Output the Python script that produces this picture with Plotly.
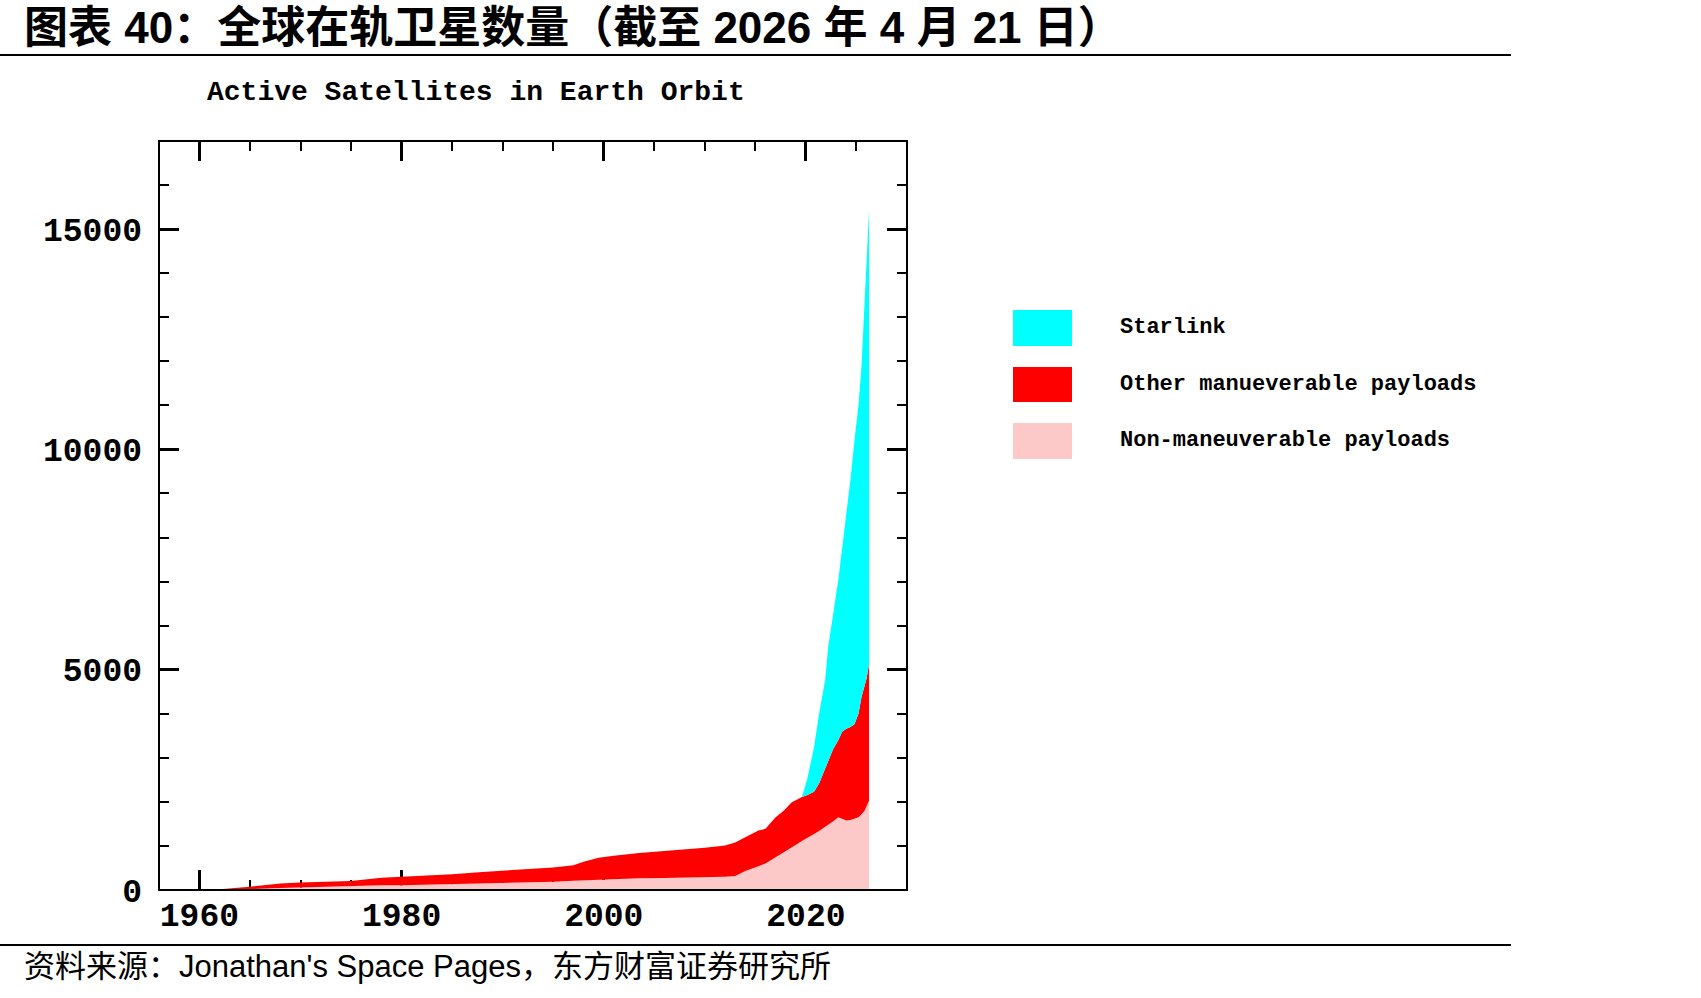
import plotly.graph_objects as go

# ---- data (stack boundaries: cumulative satellite counts) ----
years = [1957.8, 1960, 1962, 1965, 1968, 1970, 1972, 1975, 1978, 1980, 1982, 1985, 1988,
         1990, 1993, 1995, 1997, 1998, 1999.5, 2001, 2003.5, 2006, 2008.5, 2010, 2012,
         2013, 2014, 2015.3, 2016, 2017, 2017.8, 2018.6, 2019.1, 2019.6, 2020.1, 2020.8,
         2021.3, 2021.9, 2022.2, 2022.7, 2023.2, 2023.6, 2024.0, 2024.4, 2024.8, 2025.2,
         2025.5, 2025.8, 2026.0, 2026.25]

# top of "Non-maneuverable payloads" layer
non_maneuverable_top = [0, 3, 8, 20, 45, 60, 72, 90, 105, 110, 120, 130, 140,
                        150, 175, 190, 210, 220, 240, 250, 265, 275, 285, 290, 300,
                        320, 430, 540, 600, 745, 850, 970, 1040, 1110, 1170, 1270,
                        1340, 1430, 1470, 1560, 1650, 1620, 1580, 1590, 1620, 1650,
                        1720, 1800, 1900, 2030]

# top of "Other manueverable payloads" layer
other_maneuverable_top = [0, 5, 15, 75, 150, 170, 185, 205, 280, 300, 320, 360, 410,
                          440, 490, 510, 560, 640, 730, 780, 837, 880, 935, 960, 1010,
                          1080, 1200, 1350, 1390, 1650, 1800, 1990, 2050, 2110, 2150, 2230,
                          2420, 2750, 2900, 3200, 3400, 3600, 3660, 3700, 3760, 4000,
                          4380, 4600, 4800, 5140]

# top of "Starlink" layer (total active satellites)
starlink_top = [0, 5, 15, 75, 150, 170, 185, 205, 280, 300, 320, 360, 410,
                440, 490, 510, 560, 640, 730, 780, 837, 880, 935, 960, 1010,
                1080, 1200, 1350, 1390, 1650, 1800, 1990, 2050, 2110, 2490, 3240,
                4000, 4760, 5510, 6270, 7030, 7790, 8540, 9300, 10200, 11000,
                11900, 13200, 14200, 15450]

series_names = ["Starlink", "Other manueverable payloads", "Non-maneuverable payloads"]
series_colors = ["#00FFFF", "#FF0000", "#FCC8C8"]

x_tick_vals = [1960, 1980, 2000, 2020]
y_tick_vals = [0, 5000, 10000, 15000]

header_text = "图表 40：全球在轨卫星数量（截至 2026 年 4 月 21 日）"
chart_title = "Active Satellites in Earth Orbit"
source_text = "资料来源：Jonathan's Space Pages，东方财富证券研究所"

# ---- layout geometry (pixels) ----
W, H = 1701, 998
L, R, T, B = 159, 907, 141, 890


def px(x):
    return (x - L) / (R - L)


def py(y):
    return (B - y) / (B - T)


fig = go.Figure()
fig.add_trace(go.Scatter(x=years, y=non_maneuverable_top, mode="lines",
                         line=dict(width=0, color=series_colors[2]),
                         fill="tozeroy", fillcolor=series_colors[2],
                         name=series_names[2], showlegend=False, hoverinfo="skip"))
fig.add_trace(go.Scatter(x=years, y=other_maneuverable_top, mode="lines",
                         line=dict(width=0, color=series_colors[1]),
                         fill="tonexty", fillcolor=series_colors[1],
                         name=series_names[1], showlegend=False, hoverinfo="skip"))
fig.add_trace(go.Scatter(x=years, y=starlink_top, mode="lines",
                         line=dict(width=0, color=series_colors[0]),
                         fill="tonexty", fillcolor=series_colors[0],
                         name=series_names[0], showlegend=False, hoverinfo="skip"))

tick_font = dict(family="Liberation Mono, DejaVu Sans Mono, monospace", size=33,
                 color="black", weight="bold")

fig.update_xaxes(range=[1956, 2030], tickvals=x_tick_vals, ticks="inside", ticklen=20,
                 tickwidth=3, tickcolor="black", mirror="ticks", showline=False,
                 showgrid=False, zeroline=False, tickfont=tick_font, tickformat="d",
                 layer="below traces", ticklabelstandoff=2,
                 minor=dict(dtick=5, tick0=1960, ticks="inside", ticklen=10, tickwidth=2,
                            tickcolor="black", showgrid=False))
fig.update_yaxes(range=[0, 17000], tickvals=y_tick_vals, ticks="inside", ticklen=20,
                 tickwidth=3, tickcolor="black", mirror="ticks", showline=False,
                 showgrid=False, zeroline=False, tickfont=tick_font, tickformat="d",
                 layer="below traces", ticklabelstandoff=16,
                 minor=dict(dtick=1000, tick0=0, ticks="inside", ticklen=10, tickwidth=2,
                            tickcolor="black", showgrid=False))

shapes = [
    # plot frame
    dict(type="rect", xref="paper", yref="paper", x0=0, x1=1, y0=0, y1=1,
         line=dict(color="black", width=2), layer="above"),
    # header rule
    dict(type="line", xref="paper", yref="paper", x0=px(0), x1=px(1511),
         y0=py(55), y1=py(55), line=dict(color="black", width=2)),
    # footer rule
    dict(type="line", xref="paper", yref="paper", x0=px(0), x1=px(1511),
         y0=py(945), y1=py(945), line=dict(color="black", width=2)),
]

legend_rows = [(310, 346, 327), (367, 402, 384), (423, 459, 440)]
annotations = [
    dict(text=f"<b>{header_text}</b>", xref="paper", yref="paper", x=px(22), y=py(28),
         xanchor="left", yanchor="middle", showarrow=False,
         font=dict(family="Liberation Sans, Noto Sans CJK SC", size=44, color="black")),
    dict(text=f"<b>{chart_title}</b>", xref="paper", yref="paper", x=px(476), y=py(93),
         xanchor="center", yanchor="middle", showarrow=False,
         font=dict(family="Liberation Mono, monospace", size=28, color="black")),
    dict(text=source_text, xref="paper", yref="paper", x=px(22), y=py(967),
         xanchor="left", yanchor="middle", showarrow=False,
         font=dict(family="Liberation Sans, Noto Sans CJK SC", size=31, color="black")),
]
for (y0, y1, yc), name, color in zip(legend_rows, series_names, series_colors):
    shapes.append(dict(type="rect", xref="paper", yref="paper", x0=px(1013), x1=px(1072),
                       y0=py(y1), y1=py(y0), fillcolor=color, line=dict(width=0)))
    annotations.append(dict(text=f"<b>{name}</b>", xref="paper", yref="paper", x=px(1118),
                            y=py(yc), xanchor="left", yanchor="middle", showarrow=False,
                            font=dict(family="Liberation Mono, monospace", size=22,
                                      color="black")))

fig.update_layout(width=W, height=H, margin=dict(l=L, r=W - R, t=T, b=H - B),
                  paper_bgcolor="white", plot_bgcolor="white", showlegend=False,
                  shapes=shapes, annotations=annotations)

fig.write_html("out.html")
